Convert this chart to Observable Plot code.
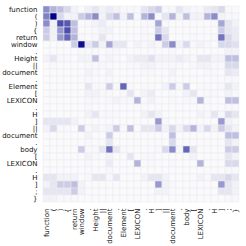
<!DOCTYPE html>
<html>
<head>
<meta charset="utf-8">
<script src="https://cdn.jsdelivr.net/npm/d3@7"></script>
<script src="https://cdn.jsdelivr.net/npm/@observablehq/plot@0.6"></script>
<style>
  html, body { margin: 0; padding: 0; background: white; }
</style>
</head>
<body>
<div id="chart"></div>
<script>
const tokens = ["function","(",")","{","return","window",".","Height","||","document",".","Element","[","LEXICON",".","H","]","||","document",".","body","[","LEXICON",".","H","]",";","}"];

const row0  = [0.45,0.3,0.25,0.15,0.05,0.02,0.06,0.1,0.05,0.08,0.05,0.03, 0.03,0.03,0.1,0.15,0.2,0.03,0.03,0.1,0.05,0.03,0.03,0.08,0.1,0.15,0.03,0.02];
const row1  = [0.5,1.0,0.15,0.05,0.05,0.2,0.3,0.45,0.05,0.15,0.25,0.05, 0.25,0.03,0.3,0.45,0.03,0.1,0.3,0.05,0.25,0.05,0.05,0.3,0.45,0.05,0.03,0.03];
const row2  = [0.45,0.05,0.7,0.65,0.25,0.02,0.03,0.05,0.08,0.03,0.02,0.02, 0.02,0.02,0.03,0.03,0.35,0.03,0.02,0.02,0.02,0.02,0.02,0.02,0.03,0.35,0.1,0.05];
const row3  = [0.2,0.05,0.4,0.7,0.25,0.02,0.02,0.03,0.05,0.05,0.02,0.02, 0.02,0.02,0.03,0.02,0.2,0.1,0.02,0.02,0.02,0.02,0.02,0.02,0.02,0.2,0.1,0.08];
const row4  = [0.2,0.05,0.4,0.6,0.3,0.03,0.02,0.03,0.1,0.03,0.02,0.02, 0.02,0.02,0.03,0.03,0.55,0.15,0.02,0.02,0.02,0.03,0.02,0.02,0.03,0.55,0.15,0.08];
const row5  = [0.02,0.02,0.02,0.02,0.2,0.95,0.1,0.2,0.05,0.35,0.1,0.1, 0.02,0.05,0.03,0.05,0.03,0.2,0.45,0.05,0.15,0.03,0.05,0.03,0.02,0.15,0.15,0.12];
const row6  = [0.02,0.02,0.02,0.02,0.02,0.03,0.03,0.03,0.02,0.03,0.03,0.02, 0.02,0.02,0.02,0.02,0.02,0.02,0.03,0.02,0.02,0.02,0.02,0.02,0.02,0.02,0.05,0.05];
const row7  = [0.05,0.1,0.03,0.03,0.02,0.05,0.05,0.25,0.03,0.05,0.03,0.02, 0.05,0.08,0.08,0.12,0.05,0.05,0.05,0.08,0.05,0.03,0.1,0.1,0.05,0.05,0.25,0.25];
const row8  = [0.02,0.03,0.02,0.02,0.02,0.02,0.03,0.03,0.03,0.03,0.02,0.02, 0.03,0.03,0.05,0.05,0.03,0.03,0.03,0.03,0.02,0.03,0.05,0.05,0.03,0.03,0.15,0.15];
const row9  = [0.02,0.02,0.02,0.02,0.02,0.02,0.05,0.03,0.02,0.05,0.02,0.02, 0.02,0.02,0.03,0.03,0.02,0.02,0.05,0.02,0.02,0.02,0.02,0.03,0.03,0.02,0.1,0.08];
const row10 = [0.02,0.02,0.02,0.02,0.02,0.02,0.03,0.02,0.02,0.03,0.02,0.02, 0.02,0.02,0.02,0.02,0.02,0.02,0.03,0.02,0.02,0.02,0.02,0.02,0.02,0.02,0.03,0.03];
const row11 = [0.02,0.02,0.02,0.02,0.02,0.02,0.1,0.03,0.03,0.2,0.03,0.6, 0.03,0.02,0.03,0.03,0.02,0.05,0.2,0.03,0.2,0.02,0.03,0.03,0.02,0.03,0.1,0.05];
const row12 = [0.02,0.03,0.02,0.02,0.02,0.02,0.05,0.05,0.03,0.03,0.02,0.03, 0.1,0.02,0.05,0.08,0.02,0.02,0.03,0.02,0.05,0.1,0.02,0.03,0.03,0.02,0.05,0.03];
const row13 = [0.02,0.02,0.02,0.02,0.02,0.02,0.03,0.03,0.02,0.03,0.05,0.03, 0.03,0.3,0.03,0.05,0.02,0.02,0.03,0.02,0.03,0.03,0.3,0.03,0.02,0.02,0.25,0.25];
const row14 = [0.02,0.02,0.02,0.02,0.02,0.02,0.03,0.02,0.02,0.02,0.02,0.02, 0.02,0.02,0.02,0.02,0.02,0.02,0.02,0.02,0.02,0.02,0.02,0.02,0.02,0.02,0.03,0.03];
const row15 = [0.02,0.02,0.02,0.02,0.02,0.02,0.05,0.1,0.03,0.03,0.03,0.02, 0.02,0.02,0.05,0.1,0.05,0.02,0.02,0.02,0.02,0.02,0.05,0.03,0.1,0.03,0.15,0.1];
const row16 = [0.1,0.1,0.1,0.1,0.05,0.02,0.02,0.02,0.02,0.02,0.02,0.02, 0.02,0.02,0.02,0.02,0.4,0.03,0.02,0.02,0.02,0.02,0.02,0.02,0.02,0.4,0.05,0.03];
const row17 = [0.05,0.15,0.03,0.03,0.02,0.2,0.03,0.05,0.03,0.05,0.2,0.03, 0.25,0.02,0.1,0.1,0.2,0.05,0.15,0.05,0.15,0.3,0.05,0.15,0.05,0.2,0.1,0.05];
const row18 = [0.02,0.02,0.02,0.02,0.02,0.02,0.05,0.02,0.02,0.2,0.02,0.02, 0.02,0.02,0.02,0.02,0.02,0.02,0.25,0.02,0.02,0.02,0.02,0.02,0.02,0.02,0.25,0.25];
const row19 = [0.02,0.02,0.02,0.02,0.02,0.02,0.03,0.02,0.02,0.1,0.02,0.02, 0.02,0.02,0.02,0.02,0.02,0.02,0.15,0.02,0.02,0.02,0.02,0.02,0.02,0.02,0.1,0.05];
const row20 = [0.02,0.02,0.02,0.02,0.02,0.2,0.03,0.03,0.1,0.55,0.1,0.03, 0.02,0.02,0.02,0.02,0.03,0.15,0.45,0.03,0.6,0.1,0.02,0.02,0.02,0.02,0.2,0.2];
const row21 = [0.03,0.02,0.02,0.02,0.02,0.02,0.05,0.03,0.02,0.05,0.02,0.02, 0.1,0.02,0.03,0.03,0.02,0.02,0.02,0.02,0.03,0.05,0.02,0.02,0.02,0.02,0.1,0.05];
const row22 = [0.02,0.02,0.02,0.02,0.02,0.02,0.03,0.02,0.02,0.08,0.02,0.02, 0.02,0.3,0.02,0.03,0.02,0.02,0.03,0.02,0.02,0.02,0.3,0.02,0.02,0.02,0.15,0.15];
const row23 = [0.02,0.02,0.02,0.02,0.02,0.02,0.02,0.02,0.02,0.03,0.02,0.02, 0.02,0.02,0.02,0.02,0.02,0.02,0.02,0.02,0.02,0.02,0.02,0.02,0.02,0.02,0.03,0.03];
const row24 = [0.1,0.1,0.05,0.05,0.05,0.02,0.03,0.1,0.1,0.03,0.1,0.02, 0.02,0.02,0.05,0.1,0.1,0.05,0.02,0.02,0.02,0.02,0.05,0.03,0.1,0.1,0.15,0.1];
const row25 = [0.05,0.1,0.2,0.2,0.25,0.05,0.02,0.02,0.02,0.02,0.02,0.02, 0.02,0.02,0.02,0.02,0.4,0.05,0.03,0.02,0.02,0.02,0.02,0.02,0.02,0.4,0.1,0.05];
const row26 = [0.1,0.1,0.1,0.1,0.2,0.05,0.02,0.02,0.02,0.02,0.02,0.02, 0.02,0.02,0.02,0.02,0.05,0.05,0.02,0.02,0.02,0.02,0.02,0.02,0.02,0.1,0.1,0.05];
const row27 = [0.05,0.05,0.03,0.03,0.03,0.02,0.02,0.02,0.02,0.02,0.02,0.02, 0.02,0.02,0.02,0.02,0.02,0.02,0.02,0.02,0.02,0.02,0.02,0.02,0.02,0.02,0.03,0.03];

const rows = [row0,row1,row2,row3,row4,row5,row6,row7,row8,row9,row10,row11,row12,row13,row14,row15,row16,row17,row18,row19,row20,row21,row22,row23,row24,row25,row26,row27];

const data = [];
rows.forEach((r, i) => r.forEach((v, j) => data.push({row: i, col: j, v})));
const idx = d3.range(tokens.length);

const chart = Plot.plot({
  width: 246,
  height: 246,
  marginLeft: 40,
  marginTop: 3,
  marginRight: 4,
  marginBottom: 41,
  style: {fontFamily: "DejaVu Sans", fontSize: "7px", color: "#111", background: "white"},
  x: {domain: idx, padding: 0, tickFormat: i => tokens[i], tickRotate: -90, tickSize: 0, tickPadding: 3, label: null},
  y: {domain: idx, padding: 0, tickFormat: i => tokens[i], tickSize: 0, tickPadding: 3, label: null},
  color: {type: "linear", domain: [0, 1], range: ["#ffffff", "#00008b"]},
  marks: [
    Plot.cell(data, {x: "col", y: "row", fill: "v", stroke: "#ebebeb", strokeWidth: 0.5})
  ]
});
document.getElementById("chart").appendChild(chart);
</script>
</body>
</html>
